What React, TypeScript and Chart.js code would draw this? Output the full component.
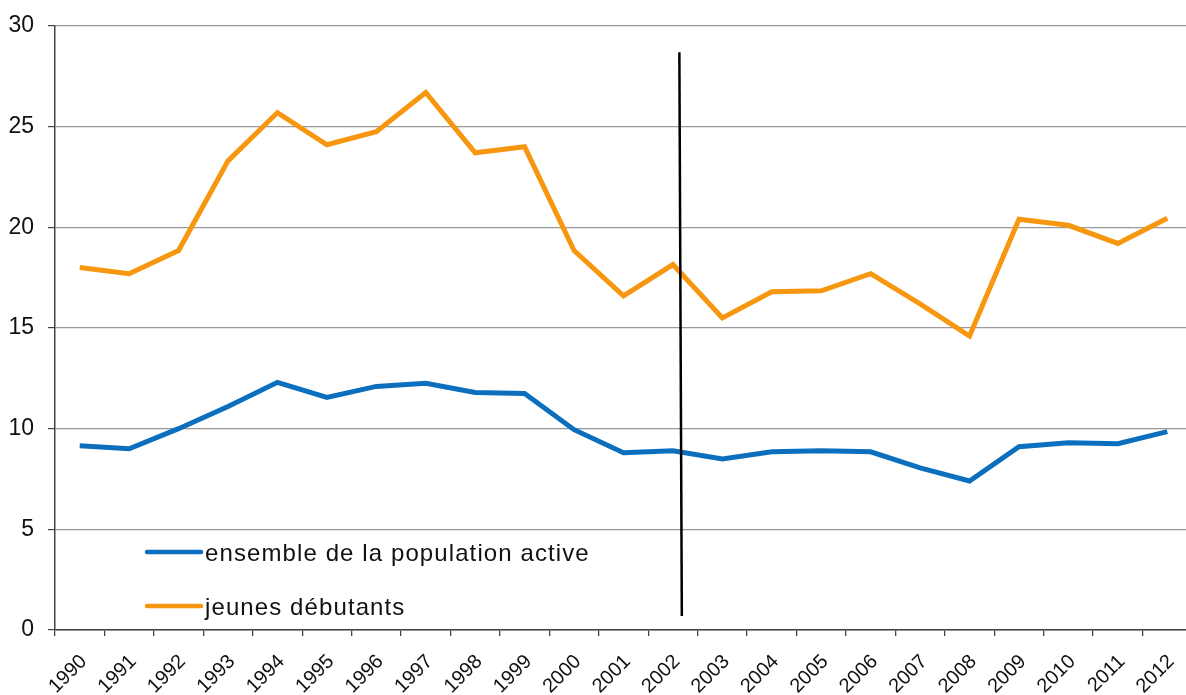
import React, { useEffect, useRef } from 'react';
import { Chart, registerables } from 'chart.js';

Chart.register(...registerables);

const years = ['1990', '1991', '1992', '1993', '1994', '1995', '1996', '1997', '1998', '1999', '2000', '2001', '2002', '2003', '2004', '2005', '2006', '2007', '2008', '2009', '2010', '2011', '2012'];

const ensembleLabel = 'ensemble de la population active';
const jeunesLabel = 'jeunes débutants';

const ensemble = [9.15, 9.0, 10.0, 11.1, 12.3, 11.55, 12.1, 12.25, 11.8, 11.75, 9.95, 8.8, 8.9, 8.5, 8.85, 8.9, 8.85, 8.05, 7.4, 9.1, 9.3, 9.25, 9.85];
const jeunes = [18.0, 17.7, 18.85, 23.3, 25.7, 24.1, 24.75, 26.7, 23.7, 24.0, 18.85, 16.6, 18.15, 15.5, 16.8, 16.85, 17.7, 16.2, 14.6, 20.4, 20.1, 19.2, 20.45];

const yMin = 0;
const yMax = 30;
const yStep = 5;

// separator line (category index, value) start and end
const separatorX = [12.13, 12.18];
const separatorY = [28.7, 0.7];

const BLUE = '#0C6FBE';
const ORANGE = '#F7960F';
const FONT = '"Liberation Sans", Arial, sans-serif';

const separatorPlugin = {
  id: 'separator',
  afterDatasetsDraw(chart: any) {
    const { ctx, scales } = chart;
    const x = scales.x;
    const y = scales.y;
    ctx.save();
    ctx.strokeStyle = '#000';
    ctx.lineWidth = 2.5;
    ctx.beginPath();
    ctx.moveTo(x.getPixelForValue(separatorX[0]), y.getPixelForValue(separatorY[0]));
    ctx.lineTo(x.getPixelForValue(separatorX[1]), y.getPixelForValue(separatorY[1]));
    ctx.stroke();
    ctx.restore();
  },
};

const legendPlugin = {
  id: 'innerLegend',
  afterDraw(chart: any) {
    const { ctx } = chart;
    const left = 147;
    const top = 552;
    const gap = 54;
    const len = 54;
    ctx.save();
    chart.data.datasets.forEach((ds: any, i: number) => {
      const yy = top + i * gap;
      ctx.strokeStyle = ds.borderColor;
      ctx.lineWidth = 4.5;
      ctx.lineCap = 'round';
      ctx.beginPath();
      ctx.moveTo(left, yy);
      ctx.lineTo(left + len, yy);
      ctx.stroke();
      ctx.fillStyle = '#111';
      ctx.font = `24px ${FONT}`;
      try { (ctx as any).letterSpacing = '1.1px'; } catch (e) {}
      ctx.textBaseline = 'alphabetic';
      ctx.textAlign = 'left';
      ctx.fillText(ds.label, left + len + 4, yy + 8.5);
    });
    ctx.restore();
  },
};

export default function App() {
  const ref = useRef<HTMLCanvasElement | null>(null);

  useEffect(() => {
    if (!ref.current) return;
    const chart = new Chart(ref.current, {
      type: 'line',
      data: {
        labels: years,
        datasets: [
          {
            label: ensembleLabel,
            data: ensemble,
            borderColor: BLUE,
            backgroundColor: BLUE,
            borderWidth: 5,
            pointRadius: 0,
            tension: 0,
            fill: false,
          },
          {
            label: jeunesLabel,
            data: jeunes,
            borderColor: ORANGE,
            backgroundColor: ORANGE,
            borderWidth: 5,
            pointRadius: 0,
            tension: 0,
            fill: false,
          },
        ],
      },
      options: {
        responsive: false,
        animation: false,
        layout: { padding: { top: 26, right: 2, left: 0, bottom: 0 } },
        plugins: {
          legend: { display: false },
          tooltip: { enabled: false },
        },
        scales: {
          x: {
            type: 'category',
            offset: true,
            grid: {
              offset: true,
              drawOnChartArea: false,
              drawTicks: true,
              tickLength: 6,
              color: '#444',
              lineWidth: 1.3,
            },
            border: { color: '#444', width: 1.5 },
            ticks: {
              autoSkip: false,
              minRotation: 45,
              maxRotation: 45,
              padding: 14,
              labelOffset: 4,
              color: '#111',
              font: { family: FONT, size: 20 },
            },
            afterFit(scale: any) {
              scale.height = 65;
              scale.paddingLeft = 0;
              scale.paddingRight = 0;
            },
          },
          y: {
            min: yMin,
            max: yMax,
            ticks: {
              stepSize: yStep,
              padding: 14,
              color: '#111',
              font: { family: FONT, size: 23 },
            },
            grid: {
              color: '#999',
              lineWidth: 1.2,
              tickLength: 7,
              tickColor: '#444',
            },
            border: { color: '#444', width: 1.5 },
            afterFit(scale: any) {
              scale.width = 55;
              scale.paddingTop = 0;
              scale.paddingBottom = 0;
            },
          },
        },
      },
      plugins: [separatorPlugin, legendPlugin],
    });
    return () => chart.destroy();
  }, []);

  return (
    <div style={{ position: 'fixed', left: 0, top: 0, width: 1186, height: 695, overflow: 'hidden', background: '#fff' }}>
      <canvas ref={ref} width={1194} height={695} style={{ display: 'block' }} />
    </div>
  );
}
